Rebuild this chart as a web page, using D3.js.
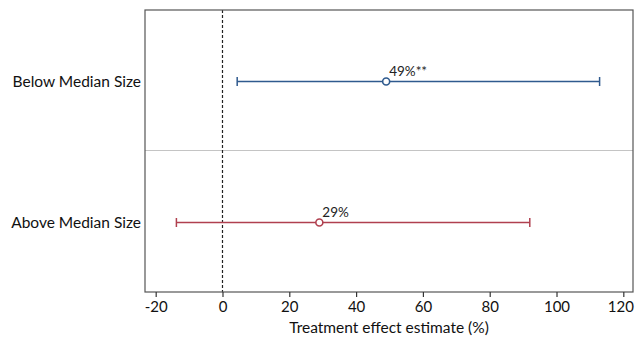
<!DOCTYPE html>
<html>
<head>
<meta charset="utf-8">
<script src="https://cdn.jsdelivr.net/npm/d3@7"></script>
<style>
  body { margin: 0; background: #fff; }
  svg { font-family: Lato, "Open Sans", sans-serif; }
</style>
</head>
<body>
<div id="chart"></div>
<script>
const groups = ["Below Median Size", "Above Median Size"];
const estimates = [49, 29];
const lowerCI = [4.4, -13.8];
const upperCI = [112.9, 92];
const pointLabels = ["49%**", "29%"];
const colors = ["#2f5a8e", "#b0404f"];
const xTicks = [-20, 0, 20, 40, 60, 80, 100, 120];

const width = 635;
const height = 340;
const margin = { top: 10, right: 2, bottom: 48, left: 145 };
const innerW = width - margin.left - margin.right;
const innerH = height - margin.top - margin.bottom;

const svg = d3.select("#chart")
    .append("svg")
    .attr("width", width)
    .attr("height", height);

const g = svg.append("g")
    .attr("transform", "translate(" + margin.left + "," + margin.top + ")");

const xScale = d3.scaleLinear()
    .domain([-23.2, 122.9])
    .range([0, innerW]);

const yScale = d3.scaleBand()
    .domain(groups)
    .range([0, innerH]);

// separator between groups
g.append("line")
    .attr("x1", 0)
    .attr("x2", innerW)
    .attr("y1", yScale(groups[1]) - 0.5)
    .attr("y2", yScale(groups[1]) - 0.5)
    .attr("stroke", "#c4c4c4")
    .attr("stroke-width", 1.2);

// zero reference line
g.append("line")
    .attr("x1", xScale(0))
    .attr("x2", xScale(0))
    .attr("y1", 0)
    .attr("y2", innerH)
    .attr("stroke", "#222")
    .attr("stroke-width", 1.2)
    .attr("stroke-dasharray", "3,2");

const rows = groups.map((d, i) => ({
    group: d, est: estimates[i], lo: lowerCI[i], hi: upperCI[i],
    label: pointLabels[i], color: colors[i]
}));

const rowG = g.selectAll(".row")
    .data(rows)
    .enter().append("g")
    .attr("class", "row")
    .attr("transform", d => "translate(0," + (yScale(d.group) + yScale.bandwidth() / 2 + 1) + ")");

rowG.append("line")
    .attr("x1", d => xScale(d.lo))
    .attr("x2", d => xScale(d.hi))
    .attr("stroke", d => d.color)
    .attr("stroke-width", 1.5);

rowG.selectAll(".cap")
    .data(d => [d.lo, d.hi].map(v => ({ v: v, color: d.color })))
    .enter().append("line")
    .attr("class", "cap")
    .attr("x1", d => xScale(d.v))
    .attr("x2", d => xScale(d.v))
    .attr("y1", -4.5)
    .attr("y2", 4.5)
    .attr("stroke", d => d.color)
    .attr("stroke-width", 1.5);

rowG.append("circle")
    .attr("cx", d => xScale(d.est))
    .attr("r", 3.5)
    .attr("fill", "#fff")
    .attr("stroke", d => d.color)
    .attr("stroke-width", 1.6);

rowG.append("text")
    .attr("x", d => xScale(d.est) + 3)
    .attr("y", -6)
    .style("font-size", "13.5px")
    .style("fill", "#222")
    .text(d => d.label);

// frame
g.append("rect")
    .attr("width", innerW)
    .attr("height", innerH)
    .attr("fill", "none")
    .attr("stroke", "#555")
    .attr("stroke-width", 1.2);

// y labels
g.selectAll(".ylab")
    .data(groups)
    .enter().append("text")
    .attr("class", "ylab")
    .attr("x", -4)
    .attr("y", d => yScale(d) + yScale.bandwidth() / 2 + 1)
    .attr("dy", "0.35em")
    .attr("text-anchor", "end")
    .style("font-size", "15.5px")
    .style("fill", "#111")
    .text(d => d);

// x axis
const xAxis = d3.axisBottom(xScale)
    .tickValues(xTicks)
    .tickFormat(d => String(d))
    .tickSize(5)
    .tickPadding(4);

const axisG = g.append("g")
    .attr("transform", "translate(0," + innerH + ")")
    .call(xAxis);

axisG.select(".domain").remove();
axisG.selectAll(".tick line").attr("stroke", "#333").attr("stroke-width", 1.2);
axisG.selectAll(".tick text")
    .style("font-size", "15px")
    .style("font-family", "Lato, sans-serif")
    .style("fill", "#111");
// keep the last label inside the window
axisG.selectAll(".tick text")
    .filter(d => d === xTicks[xTicks.length - 1])
    .attr("dx", -3);

svg.append("text")
    .attr("x", margin.left + innerW / 2)
    .attr("y", 333)
    .attr("text-anchor", "middle")
    .style("font-size", "15.5px")
    .style("fill", "#111")
    .text("Treatment effect estimate (%)");
</script>
</body>
</html>
